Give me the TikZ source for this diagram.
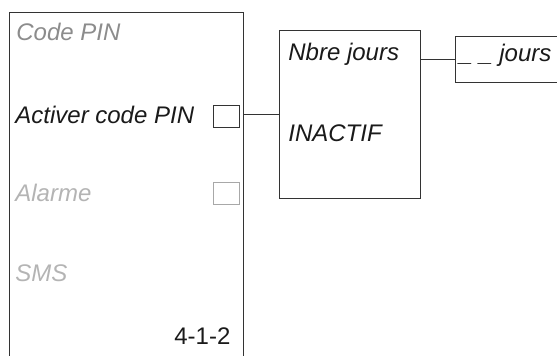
\documentclass[tikz,border=0pt]{standalone}
\usepackage{fontspec}
\setmainfont{Liberation Sans}
\usepackage{xcolor}
\usetikzlibrary{positioning,calc}
\definecolor{LineDark}{HTML}{333333}
\definecolor{TextDark}{HTML}{1A1A1A}
\definecolor{TextGray}{HTML}{8C8C8C}
\definecolor{TextLight}{HTML}{B4B4B4}
\definecolor{BoxLight}{HTML}{A8A8A8}
\begin{document}
\begin{tikzpicture}[x=0.5pt,y=-0.5pt,
    every node/.style={font=\fontsize{12}{14}\selectfont\itshape,
      inner sep=0pt, anchor=base west},
    ln/.style={LineDark, line width=0.5pt},
    chk/.style={draw=#1, line width=0.5pt, minimum width=13pt,
      minimum height=11pt, anchor=center},
    menubox/.style={draw=LineDark, line width=0.5pt, minimum width=70.5pt,
      minimum height=84pt, anchor=center}]
  \useasboundingbox (0,0) rectangle (557,356);
  % menu panel, open at the bottom
  \draw[ln] (9,356) -- (9,13) -- (243,13) -- (243,356);
  \coordinate (menuR) at (243,115);
  \node[text=TextGray] (pin) at (16,41) {Code PIN};
  \node[text=TextDark] (act) at (15,124) {Activer code PIN};
  \node[text=TextLight] (alm) at (15,202) {Alarme};
  \node[text=TextLight] (sms) at (15,282) {SMS};
  \node[text=TextDark, font=\fontsize{12}{14}\selectfont] (num) at (174,345) {4-1-2};
  \node[chk=LineDark] (chkA) at (226,117) {};
  \node[chk=BoxLight] (chkB) at (226,193.5) {};
  % sub menu
  \node[menubox] (sub) at (349.5,115) {};
  \node[text=TextDark] (nbj) at (288,61) {Nbre jours};
  \node[text=TextDark] (ina) at (288,142) {INACTIF};
  % value field, cut at the right
  \draw[ln] (557,37) -- (455,37) -- (455,83) -- (557,83);
  \coordinate (fld) at (455,60);
  \node[text=TextDark] (jrs) at (459,62) {\_ \_ jours};
  \draw[ln] (menuR) -- (sub.west);
  \draw[ln] (sub.east |- fld) -- (fld);
\end{tikzpicture}
\end{document}
